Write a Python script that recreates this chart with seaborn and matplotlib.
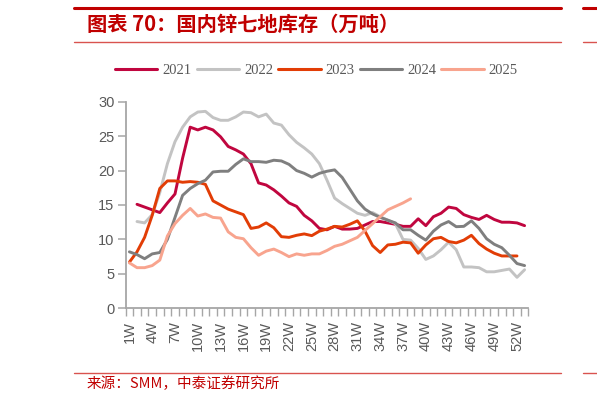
import numpy as np
import pandas as pd
import matplotlib
matplotlib.use("Agg")
import matplotlib.pyplot as plt
from matplotlib.lines import Line2D
import seaborn as sns

# ---------------- data ----------------
weeks = list(range(1, 54))
years = ["2021", "2022", "2023", "2024", "2025"]

v2021 = [None, 15.1, 14.7, 14.3, 13.9, 15.3, 16.6, 21.8, 26.3, 25.9, 26.3, 25.9, 24.9, 23.5,
         23.0, 22.4, 21.0, 18.2, 17.9, 17.2, 16.3, 15.3, 14.8, 13.5, 12.7, 11.6, 11.4, 11.9,
         11.5, 11.5, 11.6, 12.1, 12.6, 12.6, 12.4, 12.2, 11.9, 11.9, 13.0, 12.0, 13.3, 13.8,
         14.7, 14.5, 13.6, 13.2, 12.9, 13.5, 12.9, 12.5, 12.5, 12.4, 12.0]
v2022 = [None, 12.6, 12.4, 13.6, 16.8, 21.0, 24.2, 26.3, 27.8, 28.5, 28.6, 27.7, 27.3, 27.3,
         27.8, 28.5, 28.4, 27.8, 28.2, 26.9, 26.6, 25.2, 24.1, 23.3, 22.4, 21.0, 18.6, 16.0,
         15.2, 14.5, 13.8, 13.5, 13.9, 13.3, 12.8, 12.3, 10.0, 9.9, 8.7, 7.1, 7.6, 8.5,
         9.6, 8.5, 6.0, 6.0, 5.9, 5.3, 5.3, 5.5, 5.7, 4.5, 5.6]
v2023 = [6.7, 8.2, 10.3, 13.5, 17.4, 18.5, 18.5, 18.3, 18.4, 18.3, 18.0, 15.6, 15.0, 14.4,
         14.0, 13.6, 11.6, 11.8, 12.4, 11.7, 10.4, 10.3, 10.6, 10.8, 10.55, 11.2, 11.5, 11.9,
         11.8, 12.2, 12.7, 11.2, 9.1, 8.1, 9.2, 9.3, 9.6, 9.5, 8.0, 9.2, 10.1, 10.3,
         9.7, 9.5, 9.9, 10.6, 9.4, 8.6, 8.0, 7.6, 7.6, 7.6, None]
v2024 = [8.2, 7.8, 7.2, 7.9, 8.1, 10.0, 13.2, 16.4, 17.4, 18.1, 18.6, 19.8, 19.9, 19.9,
         20.9, 21.7, 21.3, 21.3, 21.2, 21.5, 21.4, 20.9, 20.0, 19.6, 19.05, 19.6, 19.9, 20.1,
         19.0, 17.3, 15.6, 14.4, 13.7, 13.2, 12.8, 12.4, 11.4, 11.4, 10.6, 9.9, 11.2, 12.1,
         12.6, 11.85, 11.9, 12.7, 11.6, 10.1, 9.3, 8.8, 7.7, 6.5, 6.2]
v2025 = [6.6, 5.9, 5.9, 6.2, 7.0, 10.5, 12.3, 13.5, 14.5, 13.4, 13.7, 13.2, 13.1, 11.1,
         10.3, 10.1, 8.8, 7.7, 8.3, 8.6, 8.1, 7.5, 7.9, 7.7, 7.9, 7.9, 8.4, 9.0,
         9.3, 9.8, 10.3, 11.3, 12.3, 13.3, 14.3, 14.8, 15.3, 15.9]

series = {"2021": v2021, "2022": v2022, "2023": v2023, "2024": v2024, "2025": v2025}
tick_weeks = list(range(1, 53, 3))
tick_labels = [f"{w}W" for w in tick_weeks]
yticks = [0, 5, 10, 15, 20, 25, 30]

title_text = "图表 70：国内锌七地库存（万吨）"
source_text = "来源：SMM，中泰证券研究所"

colors = {"2021": "#C0063F", "2022": "#C3C3C3", "2023": "#E23D06",
          "2024": "#7F7F7F", "2025": "#F8A48E"}

rows = []
for y in years:
    for w, v in zip(weeks, series[y]):
        if v is not None:
            rows.append({"week": w, "value": v, "year": y})
df = pd.DataFrame(rows)

# ---------------- figure ----------------
sns.set_theme(style="white")
plt.rcParams["font.family"] = ["Liberation Sans", "Noto Sans CJK SC", "DejaVu Sans"]

W, H = 597, 404
fig = plt.figure(figsize=(W / 100, H / 100), dpi=100)
ax = fig.add_axes([125.6 / W, 1 - 308.3 / H, (528.4 - 125.6) / W, (308.3 - 101.7) / H])

sns.lineplot(data=df, x="week", y="value", hue="year", hue_order=years,
             palette=colors, linewidth=2.1, ax=ax, legend=False, sort=True,
             estimator=None)

ax.set_xlim(0.5, 53.5)
ax.set_ylim(0, 30)
ax.set_xlabel("")
ax.set_ylabel("")

grey = "#595959"
spine_c = "#A6A6A6"
for s in ["top", "right"]:
    ax.spines[s].set_visible(False)
for s in ["left", "bottom"]:
    ax.spines[s].set_color(spine_c)
    ax.spines[s].set_linewidth(1.3)

ax.set_yticks(yticks)
ax.set_yticklabels([str(t) for t in yticks])
ax.tick_params(axis="y", which="major", length=6, width=1.1, color=spine_c,
               labelsize=10.5, labelcolor=grey, pad=2, left=True, direction="out")

ax.set_xticks(tick_weeks)
ax.set_xticklabels(tick_labels, rotation=90)
ax.set_xticks(np.arange(0.5, 54.0, 1.0), minor=True)
ax.tick_params(axis="x", which="major", length=0, labelsize=10.5, labelcolor=grey, pad=9)
ax.tick_params(axis="x", which="minor", length=6, width=1.0, color=spine_c,
               bottom=True, direction="out")
ax.grid(False)

# legend
handles = [Line2D([0], [0], color=colors[y], lw=2.2) for y in years]
fig.legend(handles, years, loc="center", bbox_to_anchor=(316.5 / W, 1 - 70 / H),
           ncol=5, frameon=False, handlelength=2.9, handletextpad=0.35,
           columnspacing=0.35, prop={"family": "Liberation Serif", "size": 10.5},
           labelcolor=grey)

# title & rules
red = "#C00000"
fig.add_artist(Line2D([74 / W, 561 / W], [1 - 8 / H] * 2, color=red, lw=2.2,
                      transform=fig.transFigure))
fig.add_artist(Line2D([583 / W, 1.0], [1 - 8 / H] * 2, color=red, lw=2.2,
                      transform=fig.transFigure))
fig.add_artist(Line2D([74 / W, 561 / W], [1 - 41.7 / H] * 2, color="#D9534F", lw=1.0,
                      transform=fig.transFigure))
fig.add_artist(Line2D([583 / W, 1.0], [1 - 41.7 / H] * 2, color="#D9534F", lw=1.0,
                      transform=fig.transFigure))
fig.text(87 / W, 1 - 24.5 / H, title_text, color=red, fontsize=14.6, fontweight="bold",
         fontstyle="italic", ha="left", va="center",
         family=["Noto Sans CJK SC", "DejaVu Sans"])

fig.add_artist(Line2D([74 / W, 561 / W], [1 - 372.7 / H] * 2, color="#D9534F", lw=1.0,
                      transform=fig.transFigure))
fig.add_artist(Line2D([583 / W, 1.0], [1 - 372.7 / H] * 2, color="#D9534F", lw=1.0,
                      transform=fig.transFigure))
fig.text(87 / W, 1 - 384 / H, source_text, color=red, fontsize=10.5,
         ha="left", va="center", family=["Noto Sans CJK SC", "DejaVu Sans"])

fig.savefig("out.png", dpi=100)
